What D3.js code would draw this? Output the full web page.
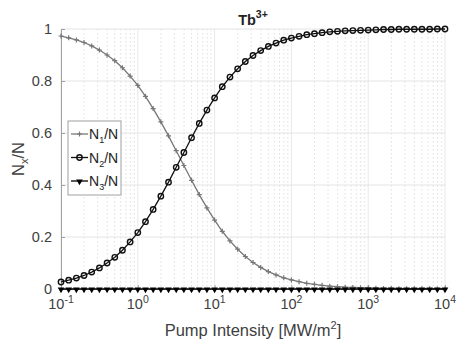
<!DOCTYPE html>
<html>
<head>
<meta charset="utf-8">
<script src="https://cdn.jsdelivr.net/npm/d3@7"></script>
<style>
  body { margin: 0; background: #fff; }
  svg { display: block; font-family: 'Liberation Sans', Arial, sans-serif; }
</style>
</head>
<body>
<svg id="chart" width="457" height="342"></svg>
<script>
// pump intensity, 10 points per decade from 1e-1 to 1e4 (exponents)
var exponents = [
  -1.0, -0.9, -0.8, -0.7, -0.6, -0.5, -0.4, -0.3, -0.2, -0.1,
  0.0, 0.1, 0.2, 0.3, 0.4, 0.5, 0.6, 0.7, 0.8, 0.9,
  1.0, 1.1, 1.2, 1.3, 1.4, 1.5, 1.6, 1.7, 1.8, 1.9,
  2.0, 2.1, 2.2, 2.3, 2.4, 2.5, 2.6, 2.7, 2.8, 2.9,
  3.0, 3.1, 3.2, 3.3, 3.4, 3.5, 3.6, 3.7, 3.8, 3.9, 4.0
]

// populations
var n1 = [
  0.973, 0.966, 0.958, 0.948, 0.935, 0.919, 0.900, 0.878, 0.851, 0.819,
  0.783, 0.741, 0.694, 0.643, 0.589, 0.532, 0.475, 0.418, 0.363, 0.312,
  0.265, 0.222, 0.185, 0.153, 0.125, 0.102, 0.083, 0.067, 0.054, 0.043,
  0.035, 0.028, 0.022, 0.018, 0.014, 0.011, 0.009, 0.007, 0.006, 0.005,
  0.004, 0.003, 0.002, 0.002, 0.001, 0.001, 0.001, 0.001, 0.001, 0.000, 0.000
]
var n2 = [
  0.027, 0.034, 0.042, 0.052, 0.065, 0.081, 0.100, 0.122, 0.149, 0.181,
  0.217, 0.259, 0.306, 0.357, 0.411, 0.468, 0.525, 0.582, 0.637, 0.688,
  0.735, 0.778, 0.815, 0.847, 0.875, 0.898, 0.917, 0.933, 0.946, 0.957,
  0.965, 0.972, 0.978, 0.982, 0.986, 0.989, 0.991, 0.993, 0.994, 0.995,
  0.996, 0.997, 0.998, 0.998, 0.999, 0.999, 0.999, 0.999, 0.999, 1.000, 1.000
]
var n3 = [
  0, 0, 0, 0, 0, 0, 0, 0, 0, 0,
  0, 0, 0, 0, 0, 0, 0, 0, 0, 0,
  0, 0, 0, 0, 0, 0, 0, 0, 0, 0,
  0, 0, 0, 0, 0, 0, 0, 0, 0, 0,
  0, 0, 0, 0, 0, 0, 0, 0, 0, 0, 0
]

var xTickExps = [-1, 0, 1, 2, 3, 4]
var yTicks = [0, 0.2, 0.4, 0.6, 0.8, 1]
var yTickLabels = ['0', '0.2', '0.4', '0.6', '0.8', '1']

var svg = d3.select('#chart')
var plotLeft = 61, plotRight = 445, plotTop = 29, plotBottom = 289

var x = d3.scaleLog().domain([0.1, 10000]).range([plotLeft, plotRight])
var y = d3.scaleLinear().domain([0, 1]).range([plotBottom, plotTop])

// grid
var minors = []
xTickExps.slice(0, -1).forEach(function(e) {
  for (var m = 2; m <= 9; m++) minors.push(m * Math.pow(10, e))
})
svg.append('g').selectAll('line')
  .data(minors)
  .enter()
  .append('line')
  .attr('x1', d => x(d)).attr('x2', d => x(d))
  .attr('y1', plotTop).attr('y2', plotBottom)
  .attr('stroke', '#dedede')
  .attr('stroke-dasharray', '1.5,2.5')
  .attr('stroke-width', 1)

svg.append('g').selectAll('line')
  .data(xTickExps)
  .enter()
  .append('line')
  .attr('x1', d => x(Math.pow(10, d))).attr('x2', d => x(Math.pow(10, d)))
  .attr('y1', plotTop).attr('y2', plotBottom)
  .attr('stroke', '#e8e8e8')
  .attr('stroke-width', 1)

svg.append('g').selectAll('line')
  .data(yTicks)
  .enter()
  .append('line')
  .attr('x1', plotLeft).attr('x2', plotRight)
  .attr('y1', d => y(d)).attr('y2', d => y(d))
  .attr('stroke', '#e4e4e4')
  .attr('stroke-width', 1)

// axes
var yAxis = d3.axisLeft(y)
  .tickValues(yTicks)
  .tickFormat((d, i) => yTickLabels[i])
  .tickSizeInner(-4)
  .tickSizeOuter(0)
  .tickPadding(9)
var gy = svg.append('g').attr('transform', 'translate(' + plotLeft + ',0)').call(yAxis)
gy.select('.domain').attr('stroke', '#a0a0a0')
gy.selectAll('.tick line').attr('stroke', '#a0a0a0')
gy.selectAll('.tick text').attr('font-size', 14.5).attr('fill', '#404040')

var xAxis = d3.axisBottom(x)
  .tickValues(xTickExps.map(e => Math.pow(10, e)))
  .tickFormat('')
  .tickSizeInner(-4)
  .tickSizeOuter(0)
var gx = svg.append('g').attr('transform', 'translate(0,' + plotBottom + ')').call(xAxis)
gx.select('.domain').attr('stroke', '#a0a0a0')
gx.selectAll('.tick line').attr('stroke', '#a0a0a0')

// x tick labels 10^n
var xl = svg.append('g')
xTickExps.forEach(function(e) {
  var t = xl.append('text')
    .attr('x', x(Math.pow(10, e)))
    .attr('y', 309)
    .attr('text-anchor', 'middle')
    .attr('font-size', 14.5)
    .attr('fill', '#404040')
  t.append('tspan').text('10')
  t.append('tspan').attr('dy', -6).attr('font-size', 10.5).text(e)
})

// series
var series = [
  { name: '1', values: n1, color: '#777777', marker: 'plus' },
  { name: '2', values: n2, color: '#111111', marker: 'circle' },
  { name: '3', values: n3, color: '#000000', marker: 'tri' }
]

var line = d3.line()
  .x(d => x(Math.pow(10, d[0])))
  .y(d => y(d[1]))

function drawMarker(g, type, color, cx, cy) {
  if (type == 'plus') {
    g.append('path')
      .attr('d', 'M' + (cx - 2.5) + ',' + cy + 'h5M' + cx + ',' + (cy - 2.5) + 'v5')
      .attr('stroke', color).attr('stroke-width', 1.2).attr('fill', 'none')
  } else if (type == 'circle') {
    g.append('circle')
      .attr('cx', cx).attr('cy', cy).attr('r', 2.7)
      .attr('fill', 'none').attr('stroke', color).attr('stroke-width', 1.4)
  } else {
    g.append('path')
      .attr('d', 'M' + (cx - 3.3) + ',' + (cy - 1.5) + 'h6.6L' + cx + ',' + (cy + 4.2) + 'Z')
      .attr('fill', color)
  }
}

series.forEach(function(s) {
  var pts = exponents.map((e, i) => [e, s.values[i]])
  svg.append('path')
    .datum(pts)
    .attr('d', line)
    .attr('fill', 'none')
    .attr('stroke', s.color)
    .attr('stroke-width', 1.3)
  var g = svg.append('g')
  pts.forEach(function(p) {
    drawMarker(g, s.marker, s.color, x(Math.pow(10, p[0])), y(p[1]))
  })
})

// title
var title = svg.append('text')
  .attr('x', (plotLeft + plotRight) / 2)
  .attr('y', 25)
  .attr('text-anchor', 'middle')
  .attr('font-size', 14.5)
  .attr('font-weight', 'bold')
  .attr('fill', '#222')
title.append('tspan').text('Tb')
title.append('tspan').attr('dy', -7).attr('font-size', 10.5).text('3+')

// axis labels
var xlab = svg.append('text')
  .attr('x', (plotLeft + plotRight) / 2)
  .attr('y', 336)
  .attr('text-anchor', 'middle')
  .attr('font-size', 16.5)
  .attr('fill', '#404040')
xlab.append('tspan').text('Pump Intensity [MW/m')
xlab.append('tspan').attr('dy', -7).attr('font-size', 11).text('2')
xlab.append('tspan').attr('dy', 7).text(']')

var ylab = svg.append('text')
  .attr('transform', 'translate(24,' + (plotTop + plotBottom) / 2 + ') rotate(-90)')
  .attr('text-anchor', 'middle')
  .attr('font-size', 16.5)
  .attr('fill', '#404040')
ylab.append('tspan').text('N')
ylab.append('tspan').attr('dy', 4).attr('font-size', 11).text('x')
ylab.append('tspan').attr('dy', -4).text('/N')

// legend
var legend = svg.append('g').attr('transform', 'translate(68,121)')
legend.append('rect')
  .attr('width', 53).attr('height', 74)
  .attr('fill', '#fff').attr('stroke', '#a0a0a0').attr('stroke-width', 1)
series.forEach(function(s, i) {
  var ly = 13 + i * 23.5
  legend.append('line')
    .attr('x1', 3).attr('x2', 20).attr('y1', ly).attr('y2', ly)
    .attr('stroke', s.color).attr('stroke-width', 1.3)
  drawMarker(legend, s.marker, s.color, 11.5, ly)
  var t = legend.append('text')
    .attr('x', 21).attr('y', ly + 5)
    .attr('font-size', 14)
    .attr('fill', '#222')
  t.append('tspan').text('N')
  t.append('tspan').attr('dy', 4).attr('font-size', 9).text(s.name)
  t.append('tspan').attr('dy', -4).text('/N')
})
</script>
</body>
</html>
